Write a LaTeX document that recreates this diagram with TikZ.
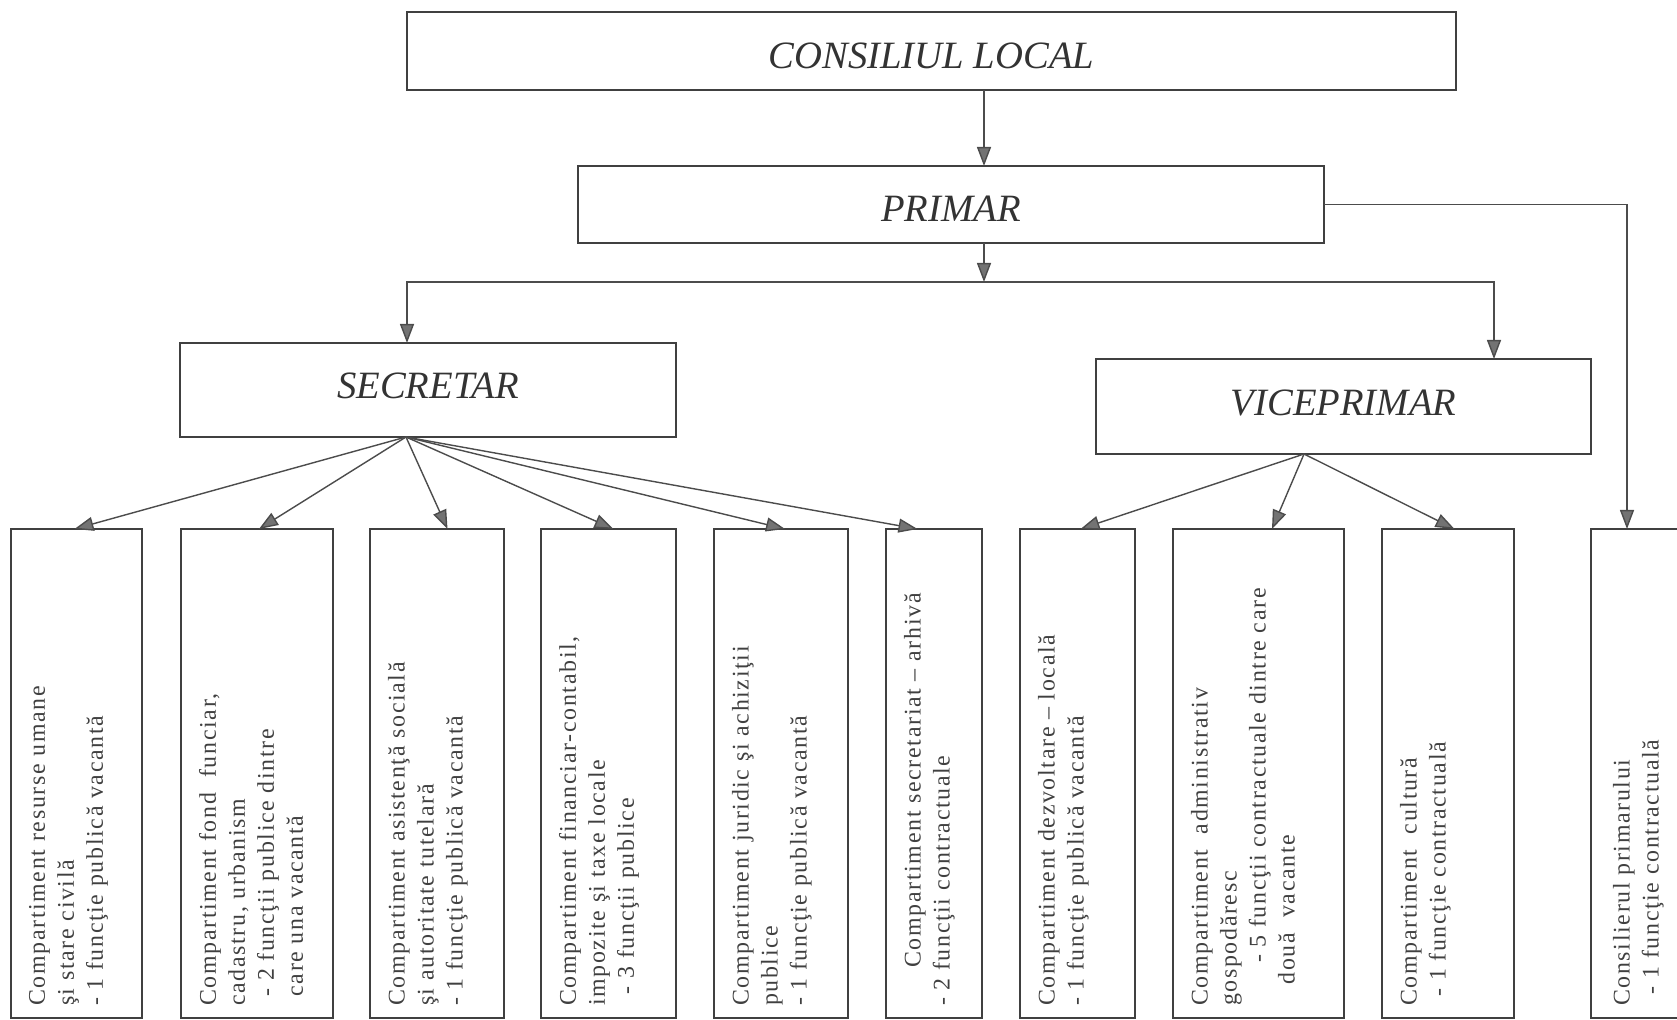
\documentclass[tikz,border=0pt]{standalone}
\usepackage{fontspec}
\setmainfont{Liberation Serif}
\newfontfamily\compfont[LetterSpace=7]{Liberation Serif}
\usetikzlibrary{positioning,arrows.meta}

\begin{document}
\begin{tikzpicture}
[every node/.style={inner sep=0mm,outer sep=0mm},
 head/.style={rectangle,draw=black!75,line width=0.5pt,text=black!80,font=\fontsize{11}{13}\selectfont\itshape},
 comp/.style={rectangle,draw=black!75,line width=0.5pt,minimum height=48.9mm},
 txt/.style={rotate=90,anchor=north west,align=left,text=black!75,font=\compfont\fontsize{6.8}{8.25}\selectfont},
 arr/.style={draw=black!70,line width=0.4pt,-{Triangle[length=1.9mm,width=1.4mm,fill=black!55]}}]
\useasboundingbox (0,0) rectangle (167.7mm,-102mm);
\clip (0,0) rectangle (167.7mm,-102mm);

\node[head,minimum width=104.9mm,minimum height=7.8mm,text height=3.5mm] (cl) at (93.15mm,-5.1mm) {CONSILIUL LOCAL};
\node[head,minimum width=74.6mm,minimum height=7.7mm,text height=3.5mm] (pr) [on grid,below right=15.35mm and 1.95mm of cl] {PRIMAR};
\node[head,minimum width=49.6mm,minimum height=9.4mm,text height=1.8mm] (sec) [on grid,below left=18.55mm and 52.3mm of pr] {SECRETAR};
\node[head,minimum width=49.5mm,minimum height=9.5mm,text height=1.8mm] (vp) [on grid,below right=20.2mm and 39.25mm of pr] {VICEPRIMAR};

\node[comp,minimum width=13.1mm] (c1)  [on grid,below left=38.35mm and 35.15mm of sec] {};
\node[comp,minimum width=15.2mm] (c2)  [on grid,right=18.05mm of c1] {};
\node[comp,minimum width=13.4mm] (c3)  [on grid,right=18mm of c2] {};
\node[comp,minimum width=13.5mm] (c4)  [on grid,right=17.15mm of c3] {};
\node[comp,minimum width=13.4mm] (c5)  [on grid,right=17.25mm of c4] {};
\node[comp,minimum width=9.6mm]  (c6)  [on grid,right=15.3mm of c5] {};
\node[comp,minimum width=11.5mm] (c7)  [on grid,below left=36.7mm and 26.6mm of vp] {};
\node[comp,minimum width=17.1mm] (c8)  [on grid,right=18.1mm of c7] {};
\node[comp,minimum width=13.2mm] (c9)  [on grid,right=18.95mm of c8] {};
\node[comp,minimum width=13mm]   (c10) [on grid,right=20.8mm of c9] {};

\node[txt] (t1)  at ([shift={(1.8mm,1.2mm)}]c1.south west)  {Compartiment resurse umane\\şi stare civilă\\- 1 funcţie publică vacantă};
\node[txt] (t2)  at ([shift={(1.8mm,1.2mm)}]c2.south west)  {Compartiment fond \ funciar,\\cadastru, urbanism\\\hspace*{0.4em}- 2 funcţii publice dintre\\\hspace*{0.4em}care una vacantă};
\node[txt] (t3)  at ([shift={(1.8mm,1.2mm)}]c3.south west)  {Compartiment asistenţă socială\\şi autoritate tutelară\\- 1 funcţie publică vacantă};
\node[txt] (t4)  at ([shift={(1.8mm,1.2mm)}]c4.south west)  {Compartiment financiar-contabil,\\impozite şi taxe locale\\\hspace*{0.5em}- 3 funcţii publice};
\node[txt] (t5)  at ([shift={(1.8mm,1.2mm)}]c5.south west)  {Compartiment juridic şi achiziţii\\publice\\- 1 funcţie publică vacantă};
\node[txt] (t6)  at ([shift={(1.8mm,1.2mm)}]c6.south west)  {\hspace*{1.6em}Compartiment secretariat – arhivă\\- 2 funcţii contractuale};
\node[txt] (t7)  at ([shift={(1.8mm,1.2mm)}]c7.south west)  {Compartiment dezvoltare – locală\\- 1 funcţie publică vacantă};
\node[txt] (t8)  at ([shift={(1.8mm,1.2mm)}]c8.south west)  {Compartiment \ administrativ\\gospodăresc\\\hspace*{1.8em}- 5 funcţii contractuale dintre care\\\hspace*{0.9em}două \ vacante};
\node[txt] (t9)  at ([shift={(1.8mm,1.2mm)}]c9.south west)  {Compartiment \ cultură\\\hspace*{0.4em}- 1 funcţie contractuală};
\node[txt] (t10) at ([shift={(2.2mm,1.2mm)}]c10.south west) {Consilierul primarului\\\hspace*{0.5em}- 1 funcţie contractuală};

\coordinate (bus) at ([xshift=3.3mm,yshift=-3.9mm]pr.south);
\coordinate (sf)  at ([xshift=-2.2mm]sec.south);
\coordinate (vf)  at ([xshift=-3.95mm]vp.south);

\draw[arr] ([xshift=3.3mm]pr.north |- cl.south) -- ([xshift=3.3mm]pr.north);
\draw[arr] (bus |- pr.south) -- (bus);
\draw[arr] (bus) -| ([xshift=-2.1mm]sec.north);
\draw[arr] (bus) -| ([xshift=15.05mm]vp.north);
\draw[arr] (pr.east) -| ([xshift=-2.9mm]c10.north);

\path (sf) edge[arr] ([xshift=-0.2mm]c1.north)
           edge[arr] ([xshift=0.2mm]c2.north)
           edge[arr] ([xshift=1.05mm]c3.north)
           edge[arr] ([xshift=0.5mm]c4.north)
           edge[arr] ([xshift=0.4mm]c5.north)
           edge[arr] ([xshift=-1.65mm]c6.north);
\path (vf) edge[arr] ([xshift=0.3mm]c7.north)
           edge[arr] ([xshift=1.35mm]c8.north)
           edge[arr] ([xshift=0.65mm]c9.north);
\end{tikzpicture}
\end{document}
